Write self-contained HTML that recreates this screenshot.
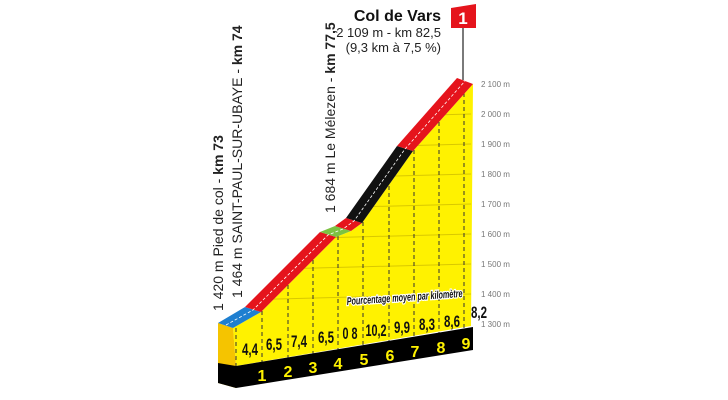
<!DOCTYPE html>
<html><head><meta charset="utf-8"><style>
html,body{margin:0;padding:0;background:#fff;width:728px;height:400px;overflow:hidden}
svg{display:block}
text{font-family:"Liberation Sans",sans-serif}
</style></head><body>
<svg width="728" height="400" viewBox="0 0 728 400">
<defs>
<clipPath id="yc"><polygon points="233,328 261,312 336,237 351,231 362,223 413,151 473,84 471,326 236,366"/></clipPath>
</defs>
<polygon points="233,328 261,312 336,237 351,231 362,223 413,151 473,84 471,326 236,366" fill="#fff200"/>
<polygon points="218,323 233,328 236,366 236,388 218,383" fill="#f5c400"/>
<g stroke="#d9c800" stroke-width="1" clip-path="url(#yc)">
<line x1="200" y1="301" x2="471" y2="294"/>
<line x1="200" y1="271" x2="471" y2="264"/>
<line x1="200" y1="241" x2="471" y2="234"/>
<line x1="200" y1="211" x2="471" y2="204"/>
<line x1="200" y1="181" x2="471" y2="174"/>
<line x1="200" y1="151" x2="471" y2="144"/>
<line x1="200" y1="121" x2="471" y2="114"/>
<line x1="200" y1="91" x2="471" y2="85"/>
</g>
<g stroke="#333" stroke-width="1" stroke-dasharray="4,3">
<line x1="236" y1="328" x2="236" y2="366"/>
<line x1="262" y1="311" x2="262" y2="362"/>
<line x1="288" y1="285" x2="288" y2="358"/>
<line x1="313" y1="260" x2="313" y2="354"/>
<line x1="338" y1="236" x2="338" y2="350"/>
<line x1="363" y1="222" x2="363" y2="346"/>
<line x1="389" y1="186" x2="389" y2="342"/>
<line x1="414" y1="150" x2="414" y2="338"/>
<line x1="439" y1="122" x2="439" y2="334"/>
<line x1="464" y1="93" x2="464" y2="330"/>
</g>
<polygon points="218,363 236,366 473,327 473,350 236,388 218,383" fill="#000"/>
<polygon points="218,323 245,307 261,312 233,328" fill="#1e7fd0"/>
<polygon points="245,307 320,232 336,237 261,312" fill="#e5141c"/>
<polygon points="320,232 335,226 351,231 336,237" fill="#7cc242"/>
<polygon points="335,226 346,218 362,223 351,231" fill="#e5141c"/>
<polygon points="346,218 397,146 413,151 362,223" fill="#111"/>
<polygon points="397,146 457,78 473,84 413,151" fill="#e5141c"/>
<polyline points="226,325 253,310 328,235 343,229 354,221 405,149 465,81" fill="none" stroke="#fff" stroke-width="0.8" stroke-dasharray="3,2"/>
<line x1="463" y1="27" x2="463" y2="80" stroke="#222" stroke-width="1.2"/>
<polygon points="451,8 476,4 476,28 451,28" fill="#e5141c"/>
<text x="463" y="24" font-size="17" font-weight="bold" fill="#fff" text-anchor="middle">1</text>
<text x="441" y="21" font-size="16" font-weight="bold" fill="#111" text-anchor="end">Col de Vars</text>
<text x="441" y="37" font-size="13" fill="#222" text-anchor="end">2 109 m - km 82,5</text>
<text x="441" y="52" font-size="13" fill="#222" text-anchor="end">(9,3 km à 7,5 %)</text>
<text transform="translate(223,311) rotate(-90)" font-size="14" fill="#222">1 420 m Pied de col - <tspan font-weight="bold">km 73</tspan></text>
<text transform="translate(242,298) rotate(-90)" font-size="14" fill="#222">1 464 m SAINT-PAUL-SUR-UBAYE - <tspan font-weight="bold">km 74</tspan></text>
<text transform="translate(335,213) rotate(-90)" font-size="14" fill="#222">1 684 m Le Mélezen - <tspan font-weight="bold">km 77,5</tspan></text>
<g font-size="8" fill="#777">
<text x="481" y="327">1 300 m</text>
<text x="481" y="297">1 400 m</text>
<text x="481" y="267">1 500 m</text>
<text x="481" y="237">1 600 m</text>
<text x="481" y="207">1 700 m</text>
<text x="481" y="177">1 800 m</text>
<text x="481" y="147">1 900 m</text>
<text x="481" y="117">2 000 m</text>
<text x="481" y="87">2 100 m</text>
</g>
<text transform="translate(347,305) rotate(-4)" font-size="11" font-weight="bold" font-style="italic" fill="#111" stroke="#fff" stroke-width="2.5" paint-order="stroke" textLength="116" lengthAdjust="spacingAndGlyphs">Pourcentage moyen par kilomètre</text>
<g font-size="17" font-weight="bold" fill="#111" text-anchor="middle">
<text x="250" y="355" textLength="16" lengthAdjust="spacingAndGlyphs">4,4</text>
<text x="274" y="350" textLength="16" lengthAdjust="spacingAndGlyphs">6,5</text>
<text x="299" y="347" textLength="16" lengthAdjust="spacingAndGlyphs">7,4</text>
<text x="326" y="343" textLength="16" lengthAdjust="spacingAndGlyphs">6,5</text>
<text x="350" y="339" textLength="15" lengthAdjust="spacingAndGlyphs">0 8</text>
<text x="376" y="336" textLength="21" lengthAdjust="spacingAndGlyphs">10,2</text>
<text x="402" y="333" textLength="16" lengthAdjust="spacingAndGlyphs">9,9</text>
<text x="427" y="330" textLength="16" lengthAdjust="spacingAndGlyphs">8,3</text>
<text x="452" y="327" textLength="16" lengthAdjust="spacingAndGlyphs">8,6</text>
<text x="479" y="318" textLength="16" lengthAdjust="spacingAndGlyphs">8,2</text>
</g>
<g font-size="16" font-weight="bold" fill="#fff200" text-anchor="middle">
<text x="262" y="381">1</text>
<text x="288" y="377">2</text>
<text x="313" y="373">3</text>
<text x="338" y="369">4</text>
<text x="364" y="365">5</text>
<text x="390" y="361">6</text>
<text x="415" y="357">7</text>
<text x="441" y="353">8</text>
<text x="466" y="349">9</text>
</g>
</svg>
</body></html>
